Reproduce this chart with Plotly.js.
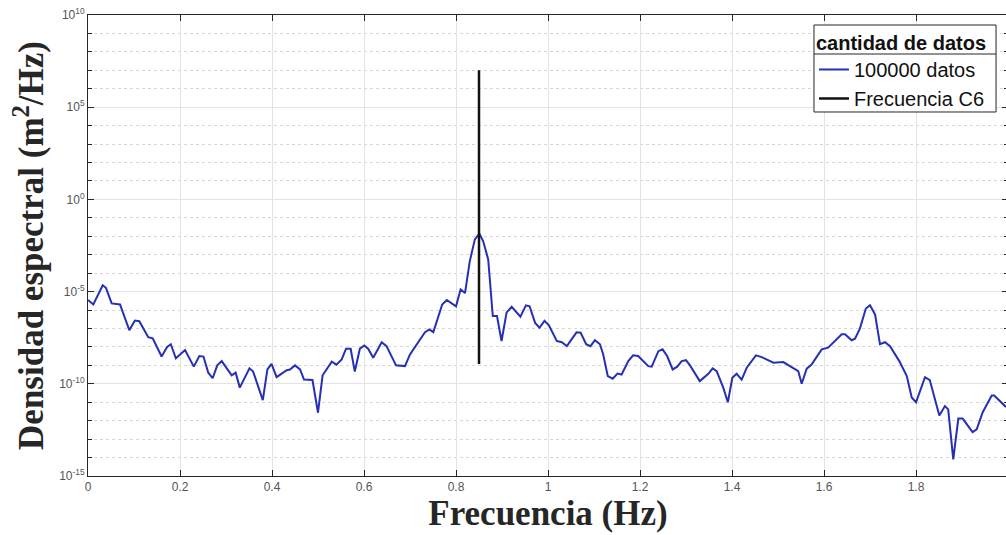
<!DOCTYPE html>
<html>
<head>
<meta charset="utf-8">
<script src="https://cdn.plot.ly/plotly-3.0.1.min.js"></script>
<style>
  html, body { margin: 0; padding: 0; overflow: hidden; background: #fff; }
  #chart { width: 1008px; height: 535px; }
</style>
</head>
<body>
<div id="chart"></div>
<script>
// Spectral density estimate (100000 samples)
const freqHz = [
  0.000, 0.0115, 0.032, 0.039, 0.0515, 0.0696, 0.0898, 0.102, 0.1115, 0.131,
  0.1407, 0.160, 0.172, 0.180, 0.191, 0.211, 0.230, 0.242, 0.251, 0.2615,
  0.271, 0.281, 0.2907, 0.3124, 0.321, 0.330, 0.351, 0.359, 0.380, 0.390,
  0.399, 0.410, 0.432, 0.439, 0.450, 0.461, 0.4696, 0.488, 0.500, 0.510,
  0.530, 0.540, 0.5515, 0.561, 0.571, 0.580, 0.591, 0.6007, 0.609, 0.620,
  0.6385, 0.649, 0.6696, 0.689, 0.700, 0.718, 0.7326, 0.742, 0.7507, 0.770,
  0.780, 0.800, 0.810, 0.8196, 0.830, 0.841, 0.8507, 0.859, 0.870, 0.880,
  0.8891, 0.899, 0.910, 0.921, 0.940, 0.952, 0.960, 0.972, 0.9815, 0.9924,
  1.002, 1.019, 1.030, 1.041, 1.062, 1.071, 1.083, 1.0924, 1.102, 1.113,
  1.120, 1.130, 1.1407, 1.151, 1.160, 1.1746, 1.185, 1.196, 1.218, 1.2254,
  1.240, 1.249, 1.259, 1.271, 1.281, 1.2907, 1.300, 1.3087, 1.330, 1.3485,
  1.358, 1.3667, 1.381, 1.391, 1.4007, 1.410, 1.421, 1.432, 1.452, 1.4646,
  1.490, 1.5115, 1.537, 1.544, 1.5515, 1.5624, 1.573, 1.595, 1.609, 1.624,
  1.6385, 1.6457, 1.660, 1.6674, 1.678, 1.691, 1.700, 1.711, 1.7217, 1.7326,
  1.7435, 1.7637, 1.780, 1.7907, 1.800, 1.8196, 1.830, 1.8507, 1.863, 1.870,
  1.881, 1.892, 1.9015, 1.923, 1.932, 1.945, 1.9646, 1.970, 1.9935, 2.000
];
const psd = [
  3.5e-6, 2.0e-6, 2.2e-5, 1.6e-5, 2.3e-6, 2.0e-6, 8.1e-8, 2.7e-7, 2.5e-7, 3.4e-8,
  2.9e-8, 3.0e-9, 1.0e-8, 1.4e-8, 2.4e-9, 6.8e-9, 8.5e-10, 3.2e-9, 3.0e-9, 4.0e-10,
  2.0e-10, 1.0e-9, 1.7e-9, 2.9e-10, 4.0e-10, 6.2e-11, 6.9e-10, 4.6e-10, 1.3e-11, 6.0e-10,
  1.2e-9, 2.3e-10, 5.5e-10, 6.0e-10, 1.0e-9, 6.0e-10, 1.7e-10, 1.6e-10, 2.7e-12, 2.9e-10,
  1.6e-9, 1.1e-9, 2.1e-9, 8.0e-9, 8.0e-9, 4.6e-10, 8.0e-9, 1.2e-8, 8.0e-9, 2.6e-9,
  1.8e-8, 1.1e-8, 1.0e-9, 9.1e-10, 3.9e-9, 1.7e-8, 6.3e-8, 8.9e-8, 6.3e-8, 2.0e-6,
  3.5e-6, 1.6e-6, 1.3e-5, 8.3e-6, 4.5e-4, 6.8e-3, 1.4e-2, 5.5e-3, 5.6e-4, 4.7e-7,
  4.7e-7, 2.1e-8, 7.4e-7, 1.5e-6, 4.4e-7, 1.8e-6, 1.6e-6, 2.0e-7, 1.1e-7, 2.6e-7,
  1.5e-7, 2.1e-8, 1.8e-8, 1.1e-8, 6.2e-8, 5.9e-8, 1.4e-8, 1.1e-8, 2.3e-8, 1.4e-8,
  3.9e-9, 2.6e-10, 1.9e-10, 3.6e-10, 3.2e-10, 1.7e-9, 3.5e-9, 3.2e-9, 9.1e-10, 8.5e-10,
  5.9e-9, 7.4e-9, 3.2e-9, 6.0e-10, 8.5e-10, 1.7e-9, 1.9e-9, 1.0e-9, 1.4e-10, 3.5e-10,
  6.9e-10, 4.9e-10, 6.2e-11, 1.0e-11, 2.1e-10, 3.5e-10, 1.7e-10, 7.4e-10, 3.5e-9, 2.8e-9,
  1.4e-9, 1.5e-9, 6.0e-10, 4.9e-10, 1.0e-10, 6.6e-10, 1.1e-9, 7.4e-9, 9.1e-9, 2.1e-8,
  4.8e-8, 4.8e-8, 2.3e-8, 2.8e-8, 9.8e-8, 1.2e-6, 1.8e-6, 5.8e-7, 1.4e-8, 1.8e-8,
  1.1e-8, 1.7e-9, 2.6e-10, 1.8e-11, 1.0e-11, 2.3e-10, 1.6e-10, 1.9e-12, 6.2e-12, 4.1e-12,
  7.9e-15, 1.3e-12, 1.3e-12, 2.4e-13, 3.4e-13, 2.9e-12, 2.3e-11, 2.3e-11, 6.2e-12, 5.2e-12
];

// Marker of the C6 frequency
const c6Freq = [0.85, 0.85];
const c6Span = [1e7, 1.2e-9];

// Axis ticks
const xTickVals = [0, 0.2, 0.4, 0.6, 0.8, 1, 1.2, 1.4, 1.6, 1.8, 2];
const xTickText = ['0', '0.2', '0.4', '0.6', '0.8', '1', '1.2', '1.4', '1.6', '1.8', '2'];
const yTickVals = [1e-15, 1e-10, 1e-5, 1, 1e5, 1e10];
const yTickText = ['10<sup>-15</sup>', '10<sup>-10</sup>', '10<sup>-5</sup>', '10<sup>0</sup>', '10<sup>5</sup>', '10<sup>10</sup>'];

// Decade grid lines between the labelled ticks
const yMinorVals = [];
for (let e = -14; e <= 9; e++) {
  if (e % 5 !== 0) yMinorVals.push(Math.pow(10, e));
}

const axisColor = '#262626';
const tickFont = { family: 'Liberation Sans, Arial, sans-serif', size: 12, color: '#555555' };
const titleFont = { family: 'Liberation Serif, Times New Roman, serif', size: 35, color: '#262626', weight: 'bold' };
const legendFont = { family: 'Liberation Sans, Arial, sans-serif', size: 20, color: '#111111' };

// Legend frame (paper coordinates) with a rule under its title
const legendBox = { x0: 0.7891, x1: 0.9870, y0: 0.7896, y1: 0.9783 };
const legendRuleY = 0.9154;

const traces = [
  {
    x: freqHz, y: psd,
    type: 'scatter', mode: 'lines',
    name: '100000 datos',
    line: { color: '#2630b4', width: 2 }
  },
  {
    x: c6Freq, y: c6Span,
    type: 'scatter', mode: 'lines',
    name: 'Frecuencia C6',
    line: { color: '#111111', width: 2.5 }
  }
];

const layout = {
  width: 1008, height: 535,
  margin: { l: 88, r: 0, t: 15, b: 59 },
  paper_bgcolor: '#ffffff',
  plot_bgcolor: '#ffffff',
  showlegend: true,
  xaxis: {
    range: [0, 2],
    tickmode: 'array', tickvals: xTickVals, ticktext: xTickText,
    ticks: 'inside', ticklen: 6, tickcolor: axisColor,
    showline: true, linecolor: axisColor, linewidth: 1, mirror: 'ticks',
    showgrid: true, gridcolor: '#e3e3e3', gridwidth: 1,
    zeroline: false,
    tickfont: tickFont,
    title: { text: '<b>Frecuencia (Hz)</b>', font: titleFont, standoff: 6 },
    automargin: false
  },
  yaxis: {
    type: 'log',
    range: [-15, 10],
    tickmode: 'array', tickvals: yTickVals, ticktext: yTickText,
    ticks: 'inside', ticklen: 6, tickcolor: axisColor,
    showline: true, linecolor: axisColor, linewidth: 1, mirror: 'ticks',
    showgrid: true, gridcolor: '#e3e3e3', gridwidth: 1,
    zeroline: false,
    tickfont: tickFont,
    minor: {
      tickmode: 'array', tickvals: yMinorVals,
      ticks: 'inside', ticklen: 4, tickcolor: axisColor,
      showgrid: true, gridcolor: '#d6d6d6', griddash: 'dot', gridwidth: 1
    },
    title: { text: '<b>Densidad espectral (m<sup>2</sup>/Hz)</b>', font: titleFont, standoff: 4 },
    automargin: false
  },
  legend: {
    x: 0.7891, y: 0.9805, xanchor: 'left', yanchor: 'top',
    bgcolor: 'rgba(0,0,0,0)', borderwidth: 0,
    font: legendFont,
    title: { text: '<b>cantidad de datos</b>', side: 'top', font: legendFont },
    itemwidth: 30,
    tracegroupgap: 0
  },
  shapes: [
    { type: 'rect', xref: 'paper', yref: 'paper', layer: 'above',
      x0: legendBox.x0, x1: legendBox.x1, y0: legendBox.y0, y1: legendBox.y1,
      fillcolor: '#ffffff', line: { color: '#262626', width: 1 } },
    { type: 'line', xref: 'paper', yref: 'paper', layer: 'above',
      x0: legendBox.x0, x1: legendBox.x1, y0: legendRuleY, y1: legendRuleY,
      line: { color: '#262626', width: 1 } }
  ]
};

Plotly.newPlot('chart', traces, layout, { displayModeBar: false, staticPlot: true });
</script>
</body>
</html>
